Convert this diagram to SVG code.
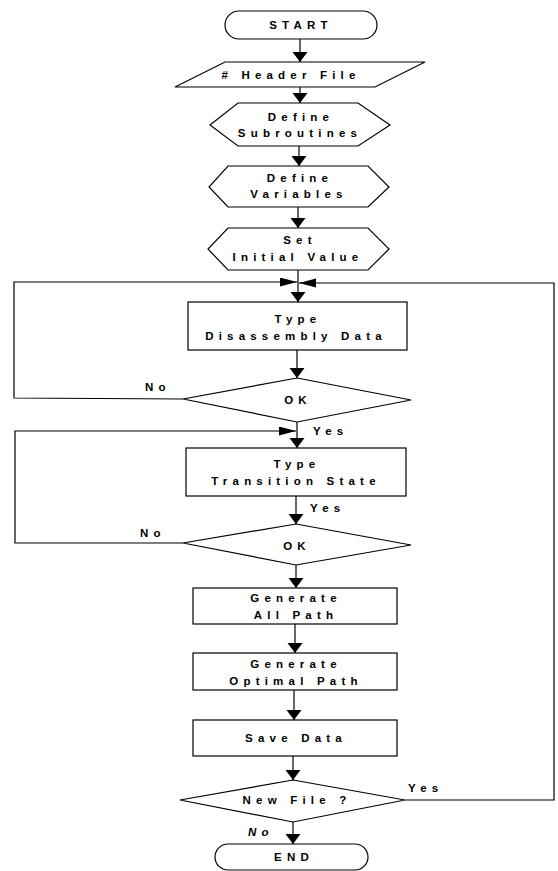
<svg xmlns="http://www.w3.org/2000/svg" width="558" height="871" viewBox="0 0 558 871">
<defs>
<marker id="arrV" markerUnits="userSpaceOnUse" markerWidth="11" markerHeight="16" refX="10" refY="8" orient="auto"><path d="M0,0.5 L10,8 L0,15.5 z" fill="#000"/></marker>
<marker id="arrH" markerUnits="userSpaceOnUse" markerWidth="18" markerHeight="10" refX="17" refY="4.5" orient="auto"><path d="M0,0 L17,4.5 L0,9 z" fill="#000"/></marker>
</defs>
<style>
.s{fill:#fff;stroke:#000;stroke-width:1.2}
.t{font-family:"Liberation Sans",Arial,sans-serif;font-weight:bold;font-size:11.5px;letter-spacing:5.2px;fill:#000;text-anchor:middle}
.l{font-family:"Liberation Sans",Arial,sans-serif;font-weight:bold;font-size:11.5px;letter-spacing:5.2px;fill:#000}
.c{fill:none;stroke:#000;stroke-width:1.2}
</style>
<g id="connectors">
<line class="c" x1="300" y1="39" x2="300" y2="62" marker-end="url(#arrV)"/>
<line class="c" x1="300" y1="87" x2="300" y2="103" marker-end="url(#arrV)"/>
<line class="c" x1="299" y1="146" x2="299" y2="166" marker-end="url(#arrV)"/>
<line class="c" x1="298" y1="207" x2="298" y2="228" marker-end="url(#arrV)"/>
<line class="c" x1="298" y1="270" x2="298" y2="302" marker-end="url(#arrV)"/>
<line class="c" x1="297" y1="350" x2="297" y2="378" marker-end="url(#arrV)"/>
<polyline class="c" points="183,399 14,398 14,282 297,282" marker-end="url(#arrH)"/>
<polyline class="c" points="405,800 554,800 554,283 299,283" marker-end="url(#arrH)"/>
<line class="c" x1="297" y1="422" x2="297" y2="448" marker-end="url(#arrV)"/>
<polyline class="c" points="183,543 15,543 15,431 296,431" marker-end="url(#arrH)"/>
<line class="c" x1="296" y1="496" x2="296" y2="524" marker-end="url(#arrV)"/>
<line class="c" x1="296" y1="565" x2="296" y2="588" marker-end="url(#arrV)"/>
<line class="c" x1="295" y1="624" x2="295" y2="653" marker-end="url(#arrV)"/>
<line class="c" x1="294" y1="690" x2="294" y2="720" marker-end="url(#arrV)"/>
<line class="c" x1="293" y1="756" x2="293" y2="780" marker-end="url(#arrV)"/>
<line class="c" x1="293" y1="822" x2="293" y2="844" marker-end="url(#arrV)"/>
<text class="l" x="145" y="391">No</text>
<text class="l" x="313" y="435">Yes</text>
<text class="l" x="310" y="512">Yes</text>
<text class="l" x="140" y="537">No</text>
<text class="l" x="408" y="792">Yes</text>
<text class="l" x="248" y="836" font-style="italic">No</text>
</g>
<g id="start">
<rect class="s" x="225" y="11" width="152" height="28" rx="14" ry="14"/>
<text class="t" x="301" y="29">START</text>
</g>
<g id="header">
<polygon class="s" points="225,62 425,62 375,87 175,87"/>
<text class="t" x="291" y="79"># Header File</text>
</g>
<g id="defsub">
<polygon class="s" points="238,103 358,103 390,125 358,146 238,146 210,125"/>
<text class="t" x="301" y="121">Define</text>
<text class="t" x="300" y="137">Subroutines</text>
</g>
<g id="defvar">
<polygon class="s" points="228,166 368,166 389,187 368,207 228,207 209,187"/>
<text class="t" x="300" y="182">Define</text>
<text class="t" x="299" y="198">Variables</text>
</g>
<g id="setinit">
<polygon class="s" points="228,228 368,228 389,249 368,270 228,270 208,249"/>
<text class="t" x="300" y="244">Set</text>
<text class="t" x="298" y="261">Initial Value</text>
</g>
<g id="typedis">
<rect class="s" x="188" y="302" width="219" height="48"/>
<text class="t" x="298" y="323">Type</text>
<text class="t" x="296" y="340">Disassembly Data</text>
</g>
<g id="ok1">
<polygon class="s" points="297,378 411,400 297,422 183,399"/>
<text class="t" x="298" y="404">OK</text>
</g>
<g id="typetrans">
<rect class="s" x="186" y="448" width="220" height="48"/>
<text class="t" x="297" y="468">Type</text>
<text class="t" x="296" y="485">Transition State</text>
</g>
<g id="ok2">
<polygon class="s" points="296,524 411,545 296,565 183,543"/>
<text class="t" x="297" y="550">OK</text>
</g>
<g id="genall">
<rect class="s" x="193" y="588" width="204" height="36"/>
<text class="t" x="296" y="602">Generate</text>
<text class="t" x="296" y="619">All Path</text>
</g>
<g id="genopt">
<rect class="s" x="193" y="653" width="204" height="37"/>
<text class="t" x="296" y="668">Generate</text>
<text class="t" x="296" y="685">Optimal Path</text>
</g>
<g id="save">
<rect class="s" x="193" y="720" width="204" height="36"/>
<text class="t" x="296" y="742">Save Data</text>
</g>
<g id="newfile">
<polygon class="s" points="293,780 405,800 293,822 180,800"/>
<text class="t" x="297" y="804">New File ?</text>
</g>
<g id="end">
<rect class="s" x="215" y="844" width="153" height="26" rx="13" ry="13"/>
<text class="t" x="294" y="861">END</text>
</g>
</svg>
